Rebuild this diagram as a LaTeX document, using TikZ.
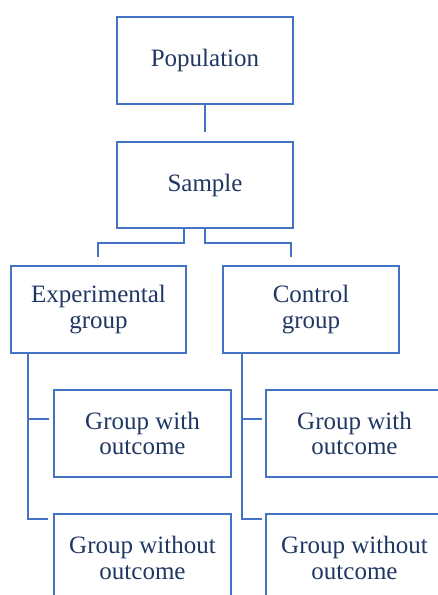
\documentclass[tikz,border=0pt]{standalone}
\usepackage{fontspec}
\setmainfont{Liberation Serif}
\definecolor{linec}{HTML}{4472C4}
\definecolor{textc}{HTML}{1F3763}
\begin{document}
\begin{tikzpicture}[x=1pt,y=-1pt,
  box/.style={draw=linec, line width=2pt, rectangle, inner sep=0pt, align=center,
    text=textc, font=\fontsize{25}{25.5}\selectfont},
  link/.style={draw=linec, line width=2pt}]
\useasboundingbox (0,0) rectangle (438,595);
\clip (0,0) rectangle (438,595);
\node[box, minimum width=176pt, minimum height=87pt] (pop) at (205,60.5) {Population};
\node[box, minimum width=176pt, minimum height=86pt] (smp) at (205,185) {Sample};
\node[box, minimum width=175pt, minimum height=87pt] (exp) at (98.5,309.5) {Experimental\\group};
\node[box, minimum width=176pt, minimum height=87pt] (ctl) at (311,309.5) {Control\\group};
\node[box, minimum width=177pt, minimum height=87pt] (ewo) at (142.5,433.5) {Group with\\outcome};
\node[box, minimum width=177pt, minimum height=88pt] (enw) at (142.5,558) {Group without\\outcome};
\node[box, minimum width=177pt, minimum height=87pt] (cwo) at (354.5,433.5) {Group with\\outcome};
\node[box, minimum width=177pt, minimum height=88pt] (cnw) at (354.5,558) {Group without\\outcome};
% connectors
\draw[link, shorten >=9pt] (pop.south) -- (smp.north);
\coordinate (sl) at (184,243);
\coordinate (sr) at (205,243);
\draw[link, shorten >=9pt] (smp.south -| sl) -- (sl) -- (98,243) -- (98,266);
\draw[link] (smp.south -| sr) -- (sr) -- (291,243) -- (291,257);
\coordinate (el) at (28,519);
\draw[link] (exp.south -| el) -- (el) -- (48,519);
\draw[link] (28,419) -- (49,419);
\coordinate (cl) at (242,519);
\draw[link] (ctl.south -| cl) -- (cl) -- (262,519);
\draw[link] (242,419) -- (262,419);
\end{tikzpicture}
\end{document}
